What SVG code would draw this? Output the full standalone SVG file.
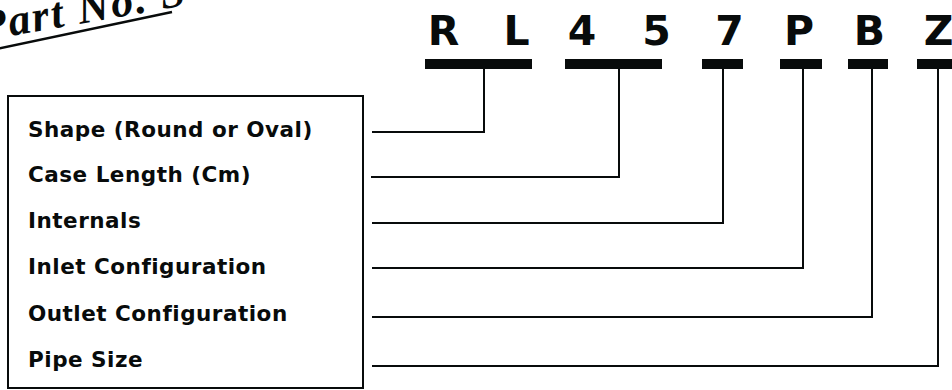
<svg xmlns="http://www.w3.org/2000/svg" width="952" height="390" viewBox="0 0 952 390">
<style>
.big{font-family:"DejaVu Sans",sans-serif;font-weight:bold;font-size:41px;fill:#080b0b;text-anchor:middle}
.lbl{font-family:"DejaVu Sans",sans-serif;font-weight:bold;font-size:21.5px;fill:#080b0b;letter-spacing:0.5px}
.bar{fill:#080b0b}
.con{fill:none;stroke:#080b0b;stroke-width:2}
.script{font-family:"Liberation Serif",serif;font-style:italic;font-weight:bold;font-size:44px;fill:#080b0b;letter-spacing:2px}
</style>
<rect width="952" height="390" fill="#fff"/>
<g id="title">
<text class="script" x="-18" y="38" transform="rotate(-10 0 38)">Part No. S</text>
<line x1="-4" y1="49" x2="172" y2="12" stroke="#080b0b" stroke-width="2.5"/>
</g>
<g id="code-RL"><text class="big" x="443.5" y="45">R</text><text class="big" x="516.5" y="45">L</text><rect class="bar" x="425" y="59" width="107" height="10"/></g>
<g id="code-45"><text class="big" x="582" y="45">4</text><text class="big" x="656.5" y="45">5</text><rect class="bar" x="565" y="59" width="97" height="10"/></g>
<g id="code-7"><text class="big" x="729.5" y="45">7</text><rect class="bar" x="702" y="59" width="41" height="10"/></g>
<g id="code-P"><text class="big" x="799" y="45">P</text><rect class="bar" x="780" y="59" width="42" height="10"/></g>
<g id="code-B"><text class="big" x="869.5" y="45">B</text><rect class="bar" x="848" y="59" width="40" height="10"/></g>
<g id="code-Z"><text class="big" x="938.5" y="45">Z</text><rect class="bar" x="917" y="59" width="40" height="10"/></g>
<g id="legend">
<rect x="8" y="96" width="355" height="292" fill="none" stroke="#080b0b" stroke-width="2"/>
<text class="lbl" x="28" y="137">Shape (Round or Oval)</text>
<text class="lbl" x="28" y="182">Case Length (Cm)</text>
<text class="lbl" x="28" y="228">Internals</text>
<text class="lbl" x="28" y="274">Inlet Configuration</text>
<text class="lbl" x="28" y="321">Outlet Configuration</text>
<text class="lbl" x="28" y="367">Pipe Size</text>
</g>
<g id="connectors">
<polyline class="con" points="372,132 484,132 484,69"/>
<polyline class="con" points="371,177 619,177 619,69"/>
<polyline class="con" points="372,223 723,223 723,69"/>
<polyline class="con" points="372,268 803,268 803,69"/>
<polyline class="con" points="372,317 872,317 872,69"/>
<polyline class="con" points="372,366 938,366 938,69"/>
</g>
</svg>
